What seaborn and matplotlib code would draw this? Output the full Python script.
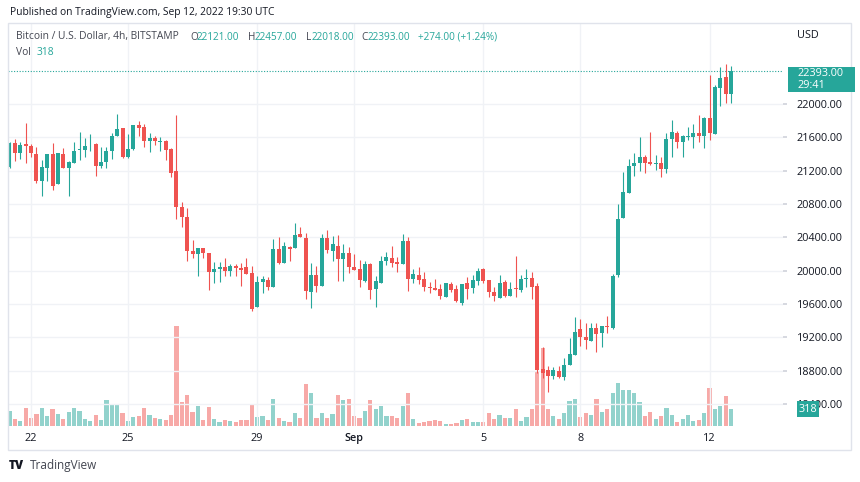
import matplotlib
matplotlib.use("Agg")
import matplotlib.pyplot as plt
from matplotlib.patches import Rectangle
import numpy as np
import pandas as pd
import seaborn as sns

# 4h candles, BTC/USD Bitstamp
start_time = "2022-08-21 08:00"
opens = [21248, 21528, 21416, 21520, 21500, 21400, 21076, 21228, 21400, 21040,
         21400, 21228, 21290, 21450, 21450, 21515, 21520, 21252, 21300, 21440,
         21616, 21708, 21360, 21460, 21748, 21720, 21560, 21588, 21540, 21560,
         21456, 21196, 20768, 20648, 20240, 20200, 20268, 20208, 19980, 20020,
         20040, 20000, 20060, 20028, 20040, 19968, 19560, 19868, 19888, 19808,
         20256, 20088, 20288, 20268, 20440, 20396, 19748, 19948, 19820, 20396,
         20240, 20296, 20136, 20216, 20040, 20016, 19880, 20080, 19776, 19856,
         20120, 20148, 20104, 20080, 20360, 19896, 19948, 19896, 19808, 19796,
         19776, 19688, 19840, 19780, 19608, 19848, 19788, 19876, 20016, 19888,
         19748, 19676, 19860, 19696, 19796, 19768, 19900, 19916, 19816, 18816,
         18808, 18736, 18796, 18728, 18868, 18988, 19296, 19208, 19160, 19308,
         19248, 19340, 19316, 19948, 20628, 20928, 21256, 21288, 21368, 21304,
         21280, 21288, 21216, 21576, 21656, 21548, 21608, 21608, 21648, 21616,
         21828, 21640, 22188, 22328, 22121]
highs = [21548, 21580, 21548, 21776, 21520, 21480, 21328, 21400, 21528, 21408,
         21468, 21316, 21540, 21668, 21588, 21640, 21536, 21488, 21488, 21648,
         21880, 21708, 21640, 21750, 21800, 21760, 21648, 21616, 21600, 21568,
         21476, 21868, 20828, 20748, 20368, 20268, 20268, 20208, 20100, 20100,
         20148, 20080, 20080, 20088, 20148, 20056, 19936, 19936, 19920, 20376,
         20408, 20348, 20296, 20568, 20520, 20448, 20088, 20056, 20436, 20488,
         20416, 20428, 20316, 20288, 20196, 20128, 20116, 20096, 19936, 20176,
         20228, 20296, 20168, 20440, 20400, 20016, 20048, 19988, 19868, 19896,
         19840, 19856, 19868, 19828, 19840, 19928, 19948, 20028, 20028, 19888,
         19808, 19948, 19888, 19860, 20176, 19948, 20020, 19980, 19848, 19080,
         18856, 18848, 18856, 18956, 19188, 19448, 19416, 19368, 19376, 19376,
         19340, 19456, 19956, 20800, 21188, 21336, 21416, 21600, 21388, 21668,
         21388, 21360, 21656, 21808, 21680, 21628, 21720, 21756, 21868, 21848,
         22348, 22228, 22440, 22480, 22457]
lows = [21228, 21316, 21336, 21288, 21368, 21056, 20896, 21080, 20968, 21040,
        21228, 20896, 21290, 21328, 21360, 21440, 21140, 21236, 21228, 21336,
        21616, 21348, 21348, 21448, 21616, 21488, 21420, 21508, 21436, 21328,
        21120, 20620, 20528, 20120, 20148, 19940, 20148, 19768, 19848, 19868,
        19940, 19940, 19940, 19820, 19960, 19520, 19560, 19736, 19768, 19808,
        20080, 20088, 20120, 20268, 20408, 19656, 19548, 19748, 19820, 20208,
        20120, 19880, 19880, 19968, 20008, 19800, 19868, 19656, 19568, 19856,
        20068, 20040, 19988, 20080, 19756, 19856, 19840, 19760, 19736, 19768,
        19660, 19680, 19748, 19628, 19588, 19660, 19728, 19828, 19848, 19688,
        19640, 19676, 19680, 19696, 19680, 19748, 19808, 19660, 18776, 18708,
        18548, 18696, 18708, 18688, 18868, 18988, 19096, 19060, 19160, 19028,
        19088, 19256, 19304, 19928, 20628, 20928, 21136, 21200, 21168, 21264,
        21208, 21120, 21176, 21368, 21468, 21360, 21568, 21468, 21548, 21468,
        21568, 21640, 21976, 22016, 22018]
closes = [21528, 21416, 21508, 21500, 21416, 21076, 21248, 21400, 21020, 21408,
          21228, 21300, 21440, 21460, 21500, 21520, 21252, 21300, 21440, 21616,
          21700, 21360, 21460, 21748, 21708, 21556, 21588, 21560, 21550, 21448,
          21176, 20768, 20640, 20240, 20200, 20268, 20208, 19980, 20020, 20040,
          20000, 20060, 20028, 20008, 19960, 19540, 19860, 19900, 19808, 20256,
          20088, 20296, 20256, 20428, 20408, 19760, 19948, 19816, 20396, 20248,
          20316, 20140, 20216, 20048, 20008, 19888, 20076, 19768, 19876, 20120,
          20160, 20096, 20080, 20360, 19896, 19956, 19888, 19800, 19788, 19768,
          19700, 19848, 19768, 19636, 19840, 19780, 19888, 20000, 19876, 19748,
          19696, 19848, 19696, 19780, 19776, 19900, 19916, 19808, 18808, 18776,
          18736, 18808, 18728, 18868, 19000, 19268, 19208, 19168, 19316, 19240,
          19340, 19320, 19936, 20620, 20948, 21256, 21288, 21368, 21296, 21280,
          21296, 21216, 21580, 21668, 21544, 21616, 21616, 21656, 21616, 21828,
          21648, 22208, 22308, 22116, 22393]
volumes = [285, 127, 95, 342, 146, 228, 336, 184, 317, 228,
           127, 266, 336, 285, 127, 95, 209, 114, 488, 393,
           393, 247, 95, 177, 196, 336, 209, 146, 127, 114,
           215, 1900, 462, 589, 266, 380, 114, 367, 127, 76,
           114, 95, 76, 114, 114, 424, 177, 190, 114, 519,
           146, 95, 82, 241, 146, 792, 633, 158, 241, 158,
           234, 589, 488, 519, 190, 158, 285, 488, 329, 380,
           190, 190, 158, 380, 633, 127, 63, 76, 95, 108,
           95, 44, 44, 63, 108, 127, 76, 76, 76, 241,
           127, 209, 158, 158, 329, 95, 177, 329, 1045, 1476,
           329, 190, 139, 241, 475, 519, 177, 241, 209, 519,
           266, 317, 633, 823, 684, 684, 621, 462, 190, 266,
           127, 190, 348, 209, 76, 127, 209, 95, 108, 241,
           716, 329, 380, 570, 318]

tick_days = ["2022-08-22", "2022-08-25", "2022-08-29", "2022-09-01",
             "2022-09-05", "2022-09-08", "2022-09-12"]
tick_labels = ["22", "25", "29", "Sep", "5", "8", "12"]
price_ticks = [18400, 18800, 19200, 19600, 20000, 20400, 20800, 21200, 21600, 22000]

GREEN = "#26a69a"
RED = "#ef5350"
GREEN_VOL = "#92d2cc"
RED_VOL = "#f7a9a7"
TEXT = "#131722"
GRID = "#f0f2f6"

df = pd.DataFrame({"open": opens, "high": highs, "low": lows,
                   "close": closes, "volume": volumes})
df["time"] = pd.date_range(start_time, periods=len(df), freq="4h")
df["idx"] = np.arange(len(df))
df["dir"] = np.where(df["close"] >= df["open"], "up", "down")

sns.set_theme(style="white")
plt.rcParams["font.family"] = ["Open Sans", "DejaVu Sans"]

W, H = 860, 482
fig = plt.figure(figsize=(W / 100, H / 100), dpi=100)
fig.patch.set_facecolor("white")

# chart pane: x 8..783, y 23..426 px
axv = fig.add_axes([8 / W, 1 - 426 / H, 775 / W, 403 / H])
ax = axv.twinx()
ax.set_zorder(axv.get_zorder() + 1)
ax.patch.set_visible(False)

# volume, drawn behind the candles
sns.barplot(data=df, x="idx", y="volume", hue="dir",
            palette={"up": GREEN_VOL, "down": RED_VOL},
            native_scale=True, dodge=False, width=0.78, saturation=1,
            errorbar=None, legend=False, ax=axv, linewidth=0)
axv.set_ylim(0, 403 * 19)
axv.set_xlabel("")
axv.set_ylabel("")
axv.set_yticks([])
axv.tick_params(axis="x", length=0, labelbottom=False)
for s in axv.spines.values():
    s.set_visible(False)

# candles
colors = np.where(df["dir"] == "up", GREEN, RED)
ax.vlines(df["idx"], df["low"], df["high"], colors=colors, linewidth=0.8, zorder=2)
body_low = np.minimum(df["open"], df["close"])
body_h = np.maximum(np.abs(df["close"] - df["open"]), 10)
ax.bar(df["idx"], body_h, bottom=body_low, width=0.74, color=colors,
       linewidth=0, zorder=3)

last = df.iloc[-1]
ax.axhline(last["close"], color=GREEN, linestyle=(0, (1, 1.5)), linewidth=0.8, zorder=1)

x_left = (8 - 9.5) / 5.385
x_right = (783 - 9.5) / 5.385
for a in (ax, axv):
    a.set_xlim(x_left, x_right)
ax.set_ylim(18136, 22972)

tick_pos = df.set_index("time").index.get_indexer(pd.to_datetime(tick_days))
ax.set_xticks(tick_pos)
ax.set_xticklabels([])
for p, lab in zip(tick_pos, tick_labels):
    ax.axvline(p, color=GRID, linewidth=1, zorder=0)
    ax.text(p, -0.03, lab, transform=ax.get_xaxis_transform(), ha="center",
            va="center", fontsize=7.8, color=TEXT,
            fontweight="semibold" if lab == "Sep" else "normal")
ax.tick_params(axis="x", length=0)

ax.set_yticks(price_ticks)
ax.set_yticklabels([f"{v:.2f}" for v in price_ticks], fontsize=7.8, color=TEXT)
ax.tick_params(axis="y", right=True, length=3, color="#d1d4dc", pad=7)
for v in price_ticks:
    ax.axhline(v, color=GRID, linewidth=1, zorder=0)
for s in ax.spines.values():
    s.set_visible(False)


def fx(x):
    return x / W


def fy(y):
    return 1 - y / H


# outer frame
fig.patches.append(Rectangle((fx(8), fy(450)), fx(843), 427 / H, transform=fig.transFigure,
                             fill=False, edgecolor="#e0e3eb", linewidth=1))

fig.text(fx(10), fy(13), "Published on TradingView.com, Sep 12, 2022 19:30 UTC",
         fontsize=7.4, color=TEXT, va="center")
fig.text(fx(16), fy(37), "Bitcoin / U.S. Dollar, 4h, BITSTAMP", fontsize=7.4,
         color="#434651", va="center")
legend_parts = [(190, "O", "#434651"), (197, f"{last['open']:.2f}", GREEN),
                (248, "H", "#434651"), (255, f"{last['high']:.2f}", GREEN),
                (306, "L", "#434651"), (312, f"{last['low']:.2f}", GREEN),
                (361, "C", "#434651"), (368, f"{last['close']:.2f}", GREEN),
                (418, "+274.00 (+1.24%)", GREEN)]
for x, t, c in legend_parts:
    fig.text(fx(x), fy(37), t, fontsize=7.2, color=c, va="center")
fig.text(fx(16), fy(52), "Vol", fontsize=7.4, color="#434651", va="center")
fig.text(fx(37), fy(52), f"{last['volume']}", fontsize=7.4, color=GREEN, va="center")

fig.text(fx(797), fy(36), "USD", fontsize=7.8, color=TEXT, va="center")

# last price label
fig.patches.append(Rectangle((fx(788), fy(92)), 67 / W, 25 / H, transform=fig.transFigure,
                             facecolor=GREEN, edgecolor="none"))
fig.text(fx(797), fy(73), f"{last['close']:.2f}", fontsize=7.8, color="white", va="center")
fig.text(fx(797), fy(85), "29:41", fontsize=7.8, color="white", va="center")

# last volume label (covers the 18400.00 tick label, as in the original)
fig.patches.append(Rectangle((fx(797), fy(417)), 22 / W, 16 / H, transform=fig.transFigure,
                             facecolor=GREEN, edgecolor="none", zorder=5))
fig.text(fx(808), fy(409), f"{last['volume']}", fontsize=7.8, color="white",
         ha="center", va="center", zorder=6)

fig.text(fx(9), fy(466), "TV", fontsize=8.5, fontweight="heavy", color=TEXT, va="center")
fig.text(fx(30), fy(466), "TradingView", fontsize=8.5, color="#434651", va="center")

fig.savefig("out.png", dpi=100)
